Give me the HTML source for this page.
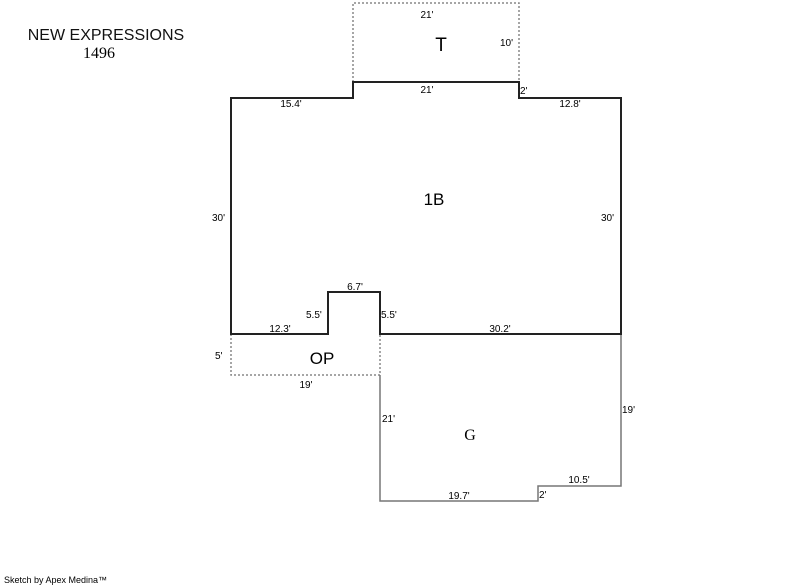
<!DOCTYPE html>
<html><head><style>html,body{margin:0;padding:0;background:#fff;}svg{display:block}</style></head>
<body>
<svg width="800" height="587" xmlns="http://www.w3.org/2000/svg" font-family="Liberation Sans, sans-serif">
<rect width="800" height="587" fill="#fff"/>
<polyline points="353,82 353,3 519,3 519,82" fill="none" stroke="#888" stroke-width="1.5" stroke-dasharray="2,2"/>
<polyline points="231,334 231,375 380,375 380,334" fill="none" stroke="#888" stroke-width="1.5" stroke-dasharray="2,2"/>
<polyline points="380,375 380,501 538,501 538,486 621,486 621,334" fill="none" stroke="#777" stroke-width="1.5"/>
<polygon points="231,98 353,98 353,82 519,82 519,98 621,98 621,334 380,334 380,292 328,292 328,334 231,334" fill="none" stroke="#222" stroke-width="2"/>
<g font-size="10" fill="#000">
<text x="427" y="18" text-anchor="middle">21'</text>
<text x="500" y="46">10'</text>
<text x="427" y="93" text-anchor="middle">21'</text>
<text x="520" y="94">2'</text>
<text x="291" y="107" text-anchor="middle">15.4'</text>
<text x="570" y="107" text-anchor="middle">12.8'</text>
<text x="212" y="221">30'</text>
<text x="601" y="221">30'</text>
<text x="355" y="290" text-anchor="middle">6.7'</text>
<text x="306" y="318">5.5'</text>
<text x="381" y="318">5.5'</text>
<text x="280" y="332" text-anchor="middle">12.3'</text>
<text x="500" y="332" text-anchor="middle">30.2'</text>
<text x="215" y="359">5'</text>
<text x="306" y="388" text-anchor="middle">19'</text>
<text x="382" y="422">21'</text>
<text x="622" y="413">19'</text>
<text x="579" y="483" text-anchor="middle">10.5'</text>
<text x="459" y="499" text-anchor="middle">19.7'</text>
<text x="539" y="498">2'</text>
</g>
<text x="441" y="51" font-size="19" text-anchor="middle">T</text>
<text x="434" y="205" font-size="17" text-anchor="middle">1B</text>
<text x="322" y="364" font-size="17" text-anchor="middle">OP</text>
<text x="470" y="440" font-size="16" text-anchor="middle" font-family="Liberation Serif, serif">G</text>
<text x="106" y="40" font-size="16" text-anchor="middle" fill="#111">NEW EXPRESSIONS</text>
<text x="99" y="58" font-size="16" text-anchor="middle" font-family="Liberation Serif, serif">1496</text>
<text x="4" y="583" font-size="9">Sketch by Apex Medina™</text>
</svg>
</body></html>
